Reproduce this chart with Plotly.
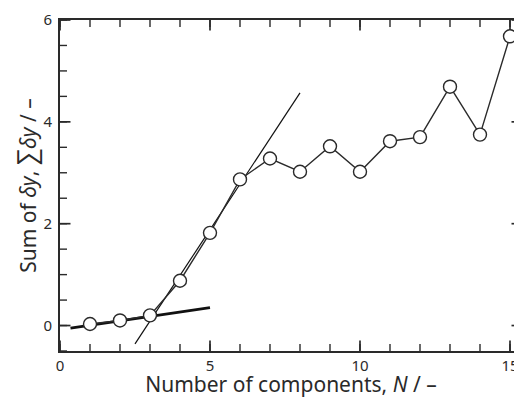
import plotly.graph_objects as go

# Data
n_components = [1, 2, 3, 4, 5, 6, 7, 8, 9, 10, 11, 12, 13, 14, 15, 16]
sum_dy = [0.03, 0.10, 0.20, 0.88, 1.82, 2.87, 3.28, 3.02, 3.52, 3.02, 3.62, 3.70, 4.69, 3.75, 5.68, 5.30]

fit_low_x = [0.35, 5.0]
fit_low_y = [-0.05, 0.35]
fit_high_x = [2.5, 8.0]
fit_high_y = [-0.36, 4.57]

x_range = [0, 15.4]
y_range = [-0.5, 6]
x_major_ticks = [0, 5, 10, 15]
x_minor_ticks = [0, 1, 2, 3, 4, 5, 6, 7, 8, 9, 10, 11, 12, 13, 14, 15]
y_major_ticks = [0, 2, 4, 6]
y_minor_ticks = [-0.5, 0, 0.5, 1, 1.5, 2, 2.5, 3, 3.5, 4, 4.5, 5, 5.5, 6]

ink = "#2a2a2a"
font_family = "Noto Sans, Open Sans, DejaVu Sans, sans-serif"

fig = go.Figure()


def edge_ticks(vals, horizontal_edge, edge_value, size, width):
    # tick marks centred on a plot edge; the outer half is clipped by the plot area
    if horizontal_edge:
        xs, ys, sym = vals, [edge_value] * len(vals), "line-ns"
    else:
        xs, ys, sym = [edge_value] * len(vals), vals, "line-ew"
    return go.Scatter(x=xs, y=ys, mode="markers", cliponaxis=True, showlegend=False,
                      hoverinfo="skip",
                      marker=dict(symbol=sym, size=size, line=dict(color=ink, width=width)))


for edge in (y_range[0], y_range[1]):
    fig.add_trace(edge_ticks(x_minor_ticks, True, edge, 10, 1.4))
    fig.add_trace(edge_ticks(x_major_ticks, True, edge, 15, 1.7))
for edge in (x_range[0], x_range[1]):
    fig.add_trace(edge_ticks(y_minor_ticks, False, edge, 10, 1.4))
    fig.add_trace(edge_ticks(y_major_ticks, False, edge, 15, 1.7))

fig.add_trace(go.Scatter(x=fit_high_x, y=fit_high_y, mode="lines",
                         line=dict(color="#111111", width=1.2), showlegend=False))
fig.add_trace(go.Scatter(x=fit_low_x, y=fit_low_y, mode="lines",
                         line=dict(color="#111111", width=2.8), showlegend=False))
fig.add_trace(go.Scatter(x=n_components, y=sum_dy, mode="lines+markers",
                         line=dict(color=ink, width=1.4),
                         marker=dict(symbol="circle", size=13, color="white",
                                     line=dict(color=ink, width=1.4)),
                         showlegend=False))

base = dict(showgrid=False, zeroline=False, automargin=False)

fig.update_layout(
    template="simple_white",
    width=514, height=390,
    margin=dict(l=52, r=0, t=12, b=47),
    plot_bgcolor="white", paper_bgcolor="white",
    font=dict(family=font_family, color=ink),
    xaxis=dict(
        range=x_range, tickmode="array", tickvals=x_major_ticks,
        ticktext=[str(v) for v in x_major_ticks],
        ticks="", showline=True, linecolor=ink, linewidth=2, mirror=True,
        ticklabelstandoff=0,
        tickfont=dict(family=font_family, size=15, color=ink),
        title=dict(text="Number of components, <i>N</i> / –", standoff=12,
                   font=dict(family=font_family, size=21, color=ink)),
        **base,
    ),
    yaxis=dict(
        range=y_range, tickmode="array", tickvals=y_major_ticks,
        ticktext=[str(v) for v in y_major_ticks],
        ticks="", showline=True, linecolor=ink, linewidth=2, mirror=True,
        ticklabelstandoff=3,
        tickfont=dict(family=font_family, size=15, color=ink),
        title=dict(text="Sum of <i>δy</i>, <span style='font-size:26px'>∑</span><i>δy</i> / –",
                   standoff=15, font=dict(family=font_family, size=21, color=ink)),
        **base,
    ),
)

fig.write_html("out.html")
